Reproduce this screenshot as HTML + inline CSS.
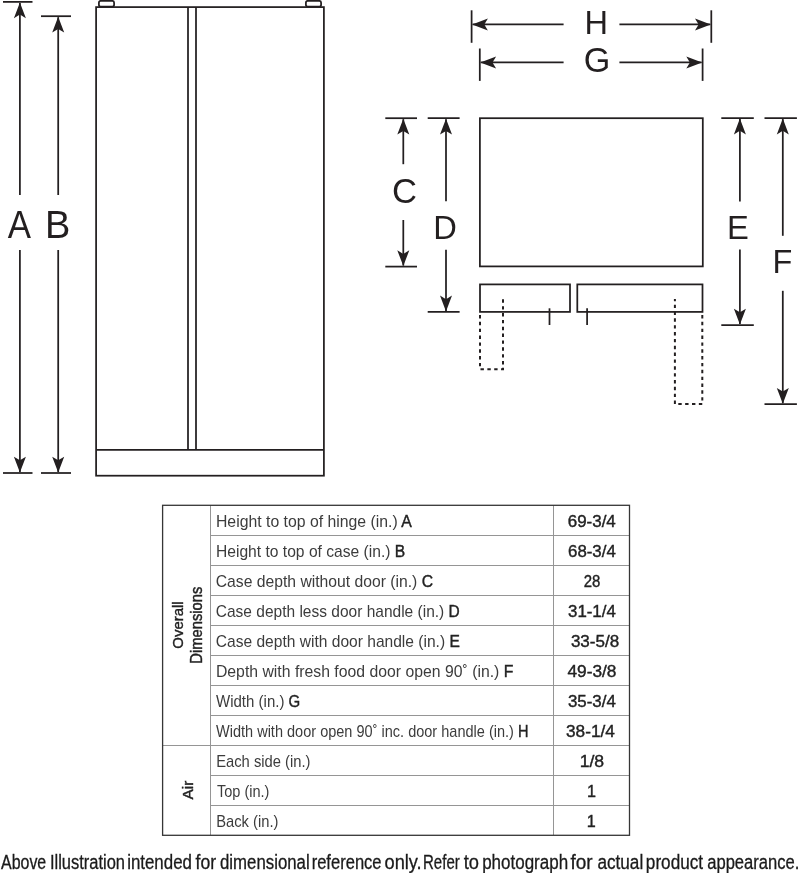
<!DOCTYPE html>
<html><head><meta charset="utf-8"><style>
html,body{margin:0;padding:0;background:#fff;}
svg{display:block;font-family:"Liberation Sans",sans-serif;will-change:transform;}
</style></head><body>
<svg width="799" height="873" viewBox="0 0 799 873">
<rect x="98.9" y="0.85" width="15.2" height="5.7" rx="1.8" fill="none" stroke="#231f20" stroke-width="1.75"/><rect x="305.9" y="0.85" width="15.2" height="5.7" rx="1.8" fill="none" stroke="#231f20" stroke-width="1.75"/><rect x="96.1" y="7.1" width="227.8" height="468.6" fill="none" stroke="#231f20" stroke-width="1.75"/><line x1="96.1" y1="449.9" x2="323.9" y2="449.9" stroke="#231f20" stroke-width="1.75"/><line x1="188" y1="7.1" x2="188" y2="449.9" stroke="#231f20" stroke-width="1.75"/><line x1="196" y1="7.1" x2="196" y2="449.9" stroke="#231f20" stroke-width="1.75"/><line x1="3" y1="1.9" x2="32.5" y2="1.9" stroke="#231f20" stroke-width="1.75"/><line x1="3" y1="473" x2="32.5" y2="473" stroke="#231f20" stroke-width="1.75"/><line x1="19.9" y1="2.9" x2="19.9" y2="195" stroke="#231f20" stroke-width="1.75"/><line x1="19.9" y1="250" x2="19.9" y2="472" stroke="#231f20" stroke-width="1.75"/><path d="M19.9 2.4 L13.899999999999999 18.2 L19.9 14.6 L25.9 18.2 Z" fill="#231f20"/><path d="M19.9 472.5 L13.899999999999999 456.7 L19.9 460.3 L25.9 456.7 Z" fill="#231f20"/><line x1="41" y1="16.2" x2="71" y2="16.2" stroke="#231f20" stroke-width="1.75"/><line x1="41" y1="473" x2="71" y2="473" stroke="#231f20" stroke-width="1.75"/><line x1="58.2" y1="17.2" x2="58.2" y2="195" stroke="#231f20" stroke-width="1.75"/><line x1="58.2" y1="250" x2="58.2" y2="472" stroke="#231f20" stroke-width="1.75"/><path d="M58.2 16.7 L52.2 32.5 L58.2 28.9 L64.2 32.5 Z" fill="#231f20"/><path d="M58.2 472.5 L52.2 456.7 L58.2 460.3 L64.2 456.7 Z" fill="#231f20"/><line x1="471.6" y1="10.3" x2="471.6" y2="42.8" stroke="#231f20" stroke-width="1.75"/><line x1="711.3" y1="10.3" x2="711.3" y2="42.8" stroke="#231f20" stroke-width="1.75"/><line x1="472.6" y1="24.4" x2="563.6" y2="24.4" stroke="#231f20" stroke-width="1.75"/><line x1="619.4" y1="24.4" x2="710.3" y2="24.4" stroke="#231f20" stroke-width="1.75"/><path d="M472.1 24.4 L487.90000000000003 18.4 L484.3 24.4 L487.90000000000003 30.4 Z" fill="#231f20"/><path d="M710.8 24.4 L695.0 18.4 L698.5999999999999 24.4 L695.0 30.4 Z" fill="#231f20"/><line x1="479.8" y1="48.5" x2="479.8" y2="80.9" stroke="#231f20" stroke-width="1.75"/><line x1="702.6" y1="48.5" x2="702.6" y2="80.9" stroke="#231f20" stroke-width="1.75"/><line x1="480.8" y1="62.4" x2="563.6" y2="62.4" stroke="#231f20" stroke-width="1.75"/><line x1="619.4" y1="62.4" x2="701.6" y2="62.4" stroke="#231f20" stroke-width="1.75"/><path d="M480.3 62.4 L496.1 56.4 L492.5 62.4 L496.1 68.4 Z" fill="#231f20"/><path d="M702.1 62.4 L686.3000000000001 56.4 L689.9 62.4 L686.3000000000001 68.4 Z" fill="#231f20"/><rect x="479.9" y="118.2" width="222.9" height="148.2" fill="none" stroke="#231f20" stroke-width="1.75"/><rect x="480" y="284.4" width="90" height="27.5" fill="none" stroke="#231f20" stroke-width="1.75"/><rect x="577.3" y="284.4" width="125.2" height="27.5" fill="none" stroke="#231f20" stroke-width="1.75"/><line x1="549.5" y1="308.3" x2="549.5" y2="325" stroke="#231f20" stroke-width="1.75"/><line x1="587.1" y1="308.3" x2="587.1" y2="325" stroke="#231f20" stroke-width="1.75"/><path d="M480 315 V369.3 H503 V299" fill="none" stroke="#231f20" stroke-width="2" stroke-dasharray="3.4 3.45"/><path d="M702.3 315 V404 H674.9 V299" fill="none" stroke="#231f20" stroke-width="2" stroke-dasharray="3.4 3.45"/><line x1="385.3" y1="118.2" x2="417" y2="118.2" stroke="#231f20" stroke-width="1.75"/><line x1="385.3" y1="266.6" x2="417" y2="266.6" stroke="#231f20" stroke-width="1.75"/><line x1="403.3" y1="119.2" x2="403.3" y2="164.2" stroke="#231f20" stroke-width="1.75"/><line x1="403.3" y1="220" x2="403.3" y2="265.6" stroke="#231f20" stroke-width="1.75"/><path d="M403.3 118.7 L397.3 134.5 L403.3 130.9 L409.3 134.5 Z" fill="#231f20"/><path d="M403.3 266.1 L397.3 250.3 L403.3 253.90000000000003 L409.3 250.3 Z" fill="#231f20"/><line x1="427.7" y1="118.2" x2="459.6" y2="118.2" stroke="#231f20" stroke-width="1.75"/><line x1="427.7" y1="311.9" x2="459.6" y2="311.9" stroke="#231f20" stroke-width="1.75"/><line x1="446" y1="119.2" x2="446" y2="201.3" stroke="#231f20" stroke-width="1.75"/><line x1="446" y1="249.8" x2="446" y2="310.9" stroke="#231f20" stroke-width="1.75"/><path d="M446 118.7 L440 134.5 L446 130.9 L452 134.5 Z" fill="#231f20"/><path d="M446 311.4 L440 295.59999999999997 L446 299.2 L452 295.59999999999997 Z" fill="#231f20"/><line x1="721.3" y1="118.1" x2="753.8" y2="118.1" stroke="#231f20" stroke-width="1.75"/><line x1="721.3" y1="325" x2="753.8" y2="325" stroke="#231f20" stroke-width="1.75"/><line x1="739.9" y1="119.1" x2="739.9" y2="201.4" stroke="#231f20" stroke-width="1.75"/><line x1="739.9" y1="249.6" x2="739.9" y2="324" stroke="#231f20" stroke-width="1.75"/><path d="M739.9 118.6 L733.9 134.4 L739.9 130.79999999999998 L745.9 134.4 Z" fill="#231f20"/><path d="M739.9 324.5 L733.9 308.7 L739.9 312.3 L745.9 308.7 Z" fill="#231f20"/><line x1="764.5" y1="118.1" x2="796.9" y2="118.1" stroke="#231f20" stroke-width="1.75"/><line x1="764.5" y1="404.2" x2="796.9" y2="404.2" stroke="#231f20" stroke-width="1.75"/><line x1="782.8" y1="119.1" x2="782.8" y2="235.8" stroke="#231f20" stroke-width="1.75"/><line x1="782.8" y1="290.8" x2="782.8" y2="403.2" stroke="#231f20" stroke-width="1.75"/><path d="M782.8 118.6 L776.8 134.4 L782.8 130.79999999999998 L788.8 134.4 Z" fill="#231f20"/><path d="M782.8 403.7 L776.8 387.9 L782.8 391.5 L788.8 387.9 Z" fill="#231f20"/>
<line x1="210.5" y1="535.5" x2="629.5" y2="535.5" stroke="#959595" stroke-width="1"/><line x1="210.5" y1="565.5" x2="629.5" y2="565.5" stroke="#959595" stroke-width="1"/><line x1="210.5" y1="595.5" x2="629.5" y2="595.5" stroke="#959595" stroke-width="1"/><line x1="210.5" y1="625.5" x2="629.5" y2="625.5" stroke="#959595" stroke-width="1"/><line x1="210.5" y1="655.5" x2="629.5" y2="655.5" stroke="#959595" stroke-width="1"/><line x1="210.5" y1="685.5" x2="629.5" y2="685.5" stroke="#959595" stroke-width="1"/><line x1="210.5" y1="715.5" x2="629.5" y2="715.5" stroke="#959595" stroke-width="1"/><line x1="162.5" y1="745.5" x2="629.5" y2="745.5" stroke="#959595" stroke-width="1"/><line x1="210.5" y1="775.5" x2="629.5" y2="775.5" stroke="#959595" stroke-width="1"/><line x1="210.5" y1="805.5" x2="629.5" y2="805.5" stroke="#959595" stroke-width="1"/><line x1="210.5" y1="505" x2="210.5" y2="835" stroke="#959595" stroke-width="1"/><line x1="553.5" y1="505" x2="553.5" y2="835" stroke="#959595" stroke-width="1"/><rect x="162.6" y="505.3" width="466.9" height="330" fill="none" stroke="#363636" stroke-width="1.3"/>
<text transform="translate(7.75,237.75) scale(0.3485,0.3804)" font-size="100" fill="#231f20">A</text><text transform="translate(44.96,237.75) scale(0.3796,0.3804)" font-size="100" fill="#231f20">B</text><text transform="translate(584.39,33.75) scale(0.3259,0.3406)" font-size="100" fill="#231f20">H</text><text transform="translate(583.69,71.85) scale(0.3415,0.3465)" font-size="100" fill="#231f20">G</text><text transform="translate(392.07,203.15) scale(0.3460,0.3479)" font-size="100" fill="#231f20">C</text><text transform="translate(433.29,238.50) scale(0.3267,0.3319)" font-size="100" fill="#231f20">D</text><text transform="translate(726.88,239.10) scale(0.3273,0.3391)" font-size="100" fill="#231f20">E</text><text transform="translate(772.40,272.50) scale(0.3245,0.3406)" font-size="100" fill="#231f20">F</text><text x="215.94" y="527.2" font-size="16.4" fill="#3c3c3c" textLength="195.86" lengthAdjust="spacingAndGlyphs">Height to top of hinge (in.) <tspan fill="#222" stroke="#222" stroke-width="0.4">A</tspan></text><text x="567.75" y="527.4" font-size="17" stroke="#222" stroke-width="0.4" fill="#222" textLength="48.05" lengthAdjust="spacingAndGlyphs">69-3/4</text><text x="215.95" y="557.2" font-size="16.4" fill="#3c3c3c" textLength="189.35" lengthAdjust="spacingAndGlyphs">Height to top of case (in.) <tspan fill="#222" stroke="#222" stroke-width="0.4">B</tspan></text><text x="568.00" y="557.4" font-size="17" stroke="#222" stroke-width="0.4" fill="#222" textLength="47.80" lengthAdjust="spacingAndGlyphs">68-3/4</text><text x="215.74" y="587.2" font-size="16.4" fill="#3c3c3c" textLength="217.28" lengthAdjust="spacingAndGlyphs">Case depth without door (in.) <tspan fill="#222" stroke="#222" stroke-width="0.4">C</tspan></text><text x="583.70" y="587.4" font-size="17" stroke="#222" stroke-width="0.4" fill="#222" textLength="16.63" lengthAdjust="spacingAndGlyphs">28</text><text x="215.75" y="617.2" font-size="16.4" fill="#3c3c3c" textLength="244.06" lengthAdjust="spacingAndGlyphs">Case depth less door handle (in.) <tspan fill="#222" stroke="#222" stroke-width="0.4">D</tspan></text><text x="568.00" y="617.4" font-size="17" stroke="#222" stroke-width="0.4" fill="#222" textLength="47.80" lengthAdjust="spacingAndGlyphs">31-1/4</text><text x="215.75" y="647.2" font-size="16.4" fill="#3c3c3c" textLength="244.11" lengthAdjust="spacingAndGlyphs">Case depth with door handle (in.) <tspan fill="#222" stroke="#222" stroke-width="0.4">E</tspan></text><text x="570.90" y="647.4" font-size="17" stroke="#222" stroke-width="0.4" fill="#222" textLength="48.30" lengthAdjust="spacingAndGlyphs">33-5/8</text><text x="215.94" y="677.2" font-size="16.4" fill="#3c3c3c" textLength="297.43" lengthAdjust="spacingAndGlyphs">Depth with fresh food door open 90˚ (in.) <tspan fill="#222" stroke="#222" stroke-width="0.4">F</tspan></text><text x="567.40" y="677.4" font-size="17" stroke="#222" stroke-width="0.4" fill="#222" textLength="49.11" lengthAdjust="spacingAndGlyphs">49-3/8</text><text x="216.00" y="707.2" font-size="16.4" fill="#3c3c3c" textLength="84.30" lengthAdjust="spacingAndGlyphs">Width (in.) <tspan fill="#222" stroke="#222" stroke-width="0.4">G</tspan></text><text x="567.90" y="707.4" font-size="17" stroke="#222" stroke-width="0.4" fill="#222" textLength="47.90" lengthAdjust="spacingAndGlyphs">35-3/4</text><text x="216.00" y="737.2" font-size="16.4" fill="#3c3c3c" textLength="312.43" lengthAdjust="spacingAndGlyphs">Width with door open 90˚ inc. door handle (in.) <tspan fill="#222" stroke="#222" stroke-width="0.4">H</tspan></text><text x="566.00" y="737.4" font-size="17" stroke="#222" stroke-width="0.4" fill="#222" textLength="48.81" lengthAdjust="spacingAndGlyphs">38-1/4</text><text x="216.20" y="767.2" font-size="16.4" fill="#3c3c3c" textLength="94.29" lengthAdjust="spacingAndGlyphs">Each side (in.)</text><text x="579.66" y="767.4" font-size="17" stroke="#222" stroke-width="0.4" fill="#222" textLength="24.50" lengthAdjust="spacingAndGlyphs">1/8</text><text x="216.90" y="797.2" font-size="16.4" fill="#3c3c3c" textLength="52.58" lengthAdjust="spacingAndGlyphs">Top (in.)</text><text x="587.05" y="797.4" font-size="17" stroke="#222" stroke-width="0.4" fill="#222" textLength="9.00" lengthAdjust="spacingAndGlyphs">1</text><text x="216.20" y="827.2" font-size="16.4" fill="#3c3c3c" textLength="62.21" lengthAdjust="spacingAndGlyphs">Back (in.)</text><text x="586.65" y="827.4" font-size="17" stroke="#222" stroke-width="0.4" fill="#222" textLength="9.00" lengthAdjust="spacingAndGlyphs">1</text><text transform="translate(183.00,648.70) rotate(-90) scale(0.9979,0.9818)" font-size="15" stroke="#222" stroke-width="0.4" fill="#222">Overall</text><text transform="translate(202.00,663.68) rotate(-90) scale(0.9844,1.0455)" font-size="15" stroke="#222" stroke-width="0.4" fill="#222">Dimensions</text><text transform="translate(192.50,799.50) rotate(-90) scale(1.0278,1.0000)" font-size="15" stroke="#222" stroke-width="0.4" fill="#222">Air</text><text x="1.00" y="869.2" font-size="19.5" stroke="#1a1a1a" stroke-width="0.3" fill="#1a1a1a" textLength="45.24" lengthAdjust="spacingAndGlyphs">Above</text><text x="49.91" y="869.2" font-size="19.5" stroke="#1a1a1a" stroke-width="0.3" fill="#1a1a1a" textLength="75.08" lengthAdjust="spacingAndGlyphs">Illustration</text><text x="127.13" y="869.2" font-size="19.5" stroke="#1a1a1a" stroke-width="0.3" fill="#1a1a1a" textLength="64.83" lengthAdjust="spacingAndGlyphs">intended</text><text x="195.50" y="869.2" font-size="19.5" stroke="#1a1a1a" stroke-width="0.3" fill="#1a1a1a" textLength="20.54" lengthAdjust="spacingAndGlyphs">for</text><text x="220.00" y="869.2" font-size="19.5" stroke="#1a1a1a" stroke-width="0.3" fill="#1a1a1a" textLength="89.67" lengthAdjust="spacingAndGlyphs">dimensional</text><text x="311.65" y="869.2" font-size="19.5" stroke="#1a1a1a" stroke-width="0.3" fill="#1a1a1a" textLength="69.93" lengthAdjust="spacingAndGlyphs">reference</text><text x="384.50" y="869.2" font-size="19.5" stroke="#1a1a1a" stroke-width="0.3" fill="#1a1a1a" textLength="37.13" lengthAdjust="spacingAndGlyphs">only.</text><text x="422.98" y="869.2" font-size="19.5" stroke="#1a1a1a" stroke-width="0.3" fill="#1a1a1a" textLength="36.78" lengthAdjust="spacingAndGlyphs">Refer</text><text x="463.75" y="869.2" font-size="19.5" stroke="#1a1a1a" stroke-width="0.3" fill="#1a1a1a" textLength="15.25" lengthAdjust="spacingAndGlyphs">to</text><text x="482.13" y="869.2" font-size="19.5" stroke="#1a1a1a" stroke-width="0.3" fill="#1a1a1a" textLength="85.96" lengthAdjust="spacingAndGlyphs">photograph</text><text x="570.50" y="869.2" font-size="19.5" stroke="#1a1a1a" stroke-width="0.3" fill="#1a1a1a" textLength="22.17" lengthAdjust="spacingAndGlyphs">for</text><text x="597.40" y="869.2" font-size="19.5" stroke="#1a1a1a" stroke-width="0.3" fill="#1a1a1a" textLength="45.82" lengthAdjust="spacingAndGlyphs">actual</text><text x="645.87" y="869.2" font-size="19.5" stroke="#1a1a1a" stroke-width="0.3" fill="#1a1a1a" textLength="57.17" lengthAdjust="spacingAndGlyphs">product</text><text x="707.20" y="869.2" font-size="19.5" stroke="#1a1a1a" stroke-width="0.3" fill="#1a1a1a" textLength="92.21" lengthAdjust="spacingAndGlyphs">appearance.</text>
</svg>
</body></html>
